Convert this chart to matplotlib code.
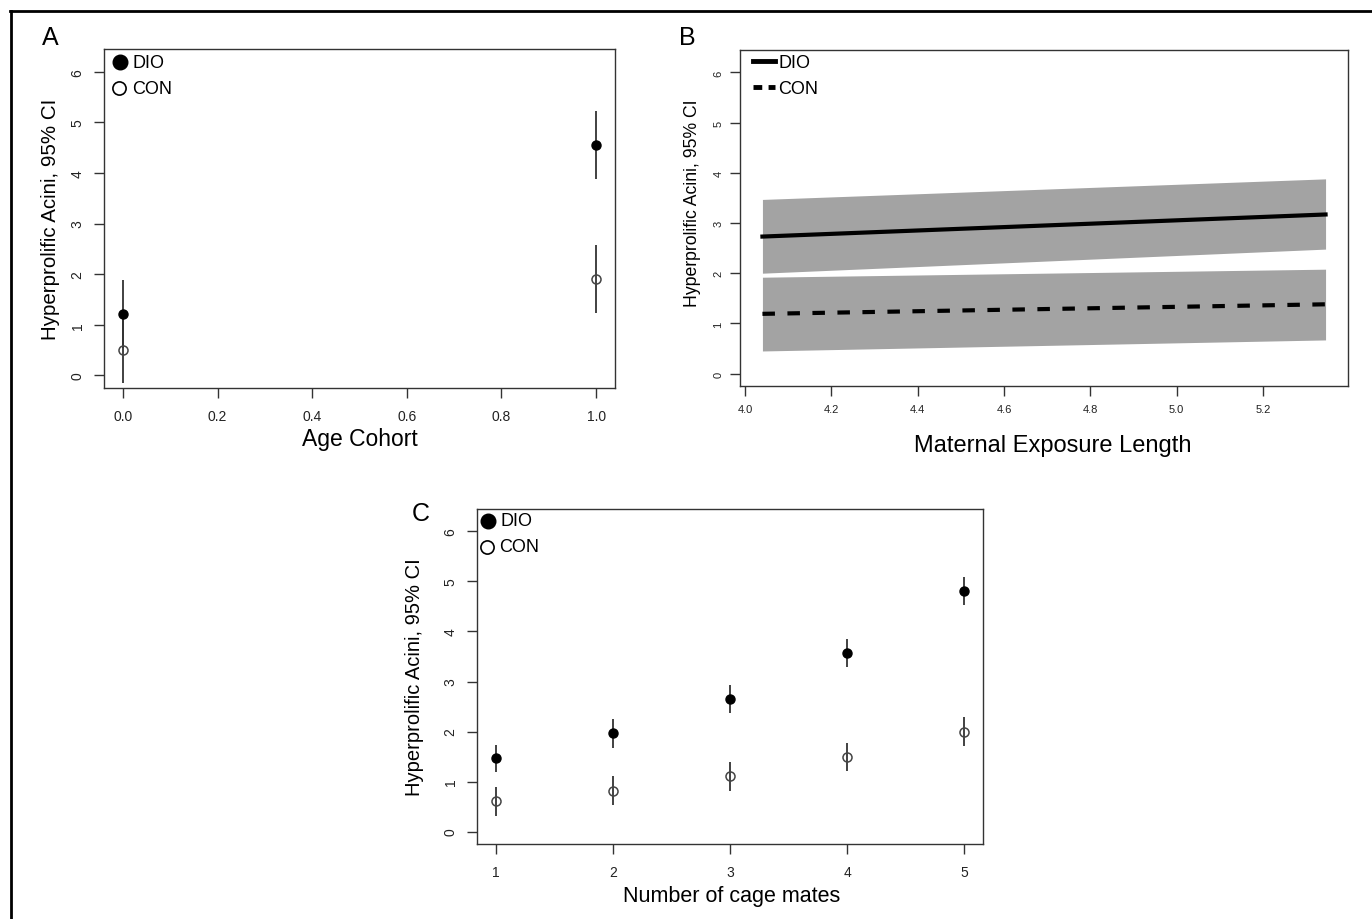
import numpy as np
import matplotlib
matplotlib.use("Agg")
from matplotlib import pyplot as plt
from matplotlib.lines import Line2D
from matplotlib.transforms import Affine2D, ScaledTranslation

plt.rcParams['font.family'] = ['Liberation Sans', 'DejaVu Sans']
NARROW = ['Liberation Sans Narrow', 'Liberation Sans', 'DejaVu Sans']

# A: age cohort
age_cohort = [0, 1]
a_dio = [1.22, 4.56]
a_dio_lo = [0.55, 3.88]
a_dio_hi = [1.88, 5.23]
a_con = [0.51, 1.91]
a_con_lo = [-0.15, 1.24]
a_con_hi = [1.18, 2.58]

# B: maternal exposure length (fitted line + 95% band)
exposure = [4.04, 5.345]
b_dio = [2.73, 3.17]
b_dio_lo = [2.00, 2.48]
b_dio_hi = [3.47, 3.88]
b_con = [1.19, 1.38]
b_con_lo = [0.45, 0.67]
b_con_hi = [1.92, 2.08]

# C: number of cage mates
cage_mates = [1, 2, 3, 4, 5]
c_dio = [1.47, 1.97, 2.65, 3.56, 4.80]
c_dio_lo = [1.19, 1.68, 2.37, 3.28, 4.52]
c_dio_hi = [1.74, 2.25, 2.93, 3.85, 5.08]
c_con = [0.61, 0.82, 1.11, 1.49, 2.00]
c_con_lo = [0.32, 0.53, 0.82, 1.21, 1.71]
c_con_hi = [0.89, 1.11, 1.39, 1.77, 2.29]

yticks = [0, 1, 2, 3, 4, 5, 6]
ylab = 'Hyperprolific Acini, 95% CI'

W, H = 1372, 920
fig = plt.figure(figsize=(W / 100, H / 100), dpi=100)


def px_axes(l, t, r, b):
    return fig.add_axes([l / W, 1 - b / H, (r - l) / W, (b - t) / H])


def px(ax):
    # pixel offsets measured from the axes' top-left corner, y downwards
    return Affine2D().scale(1, -1) + ScaledTranslation(0, 1, ax.transAxes)


def style(ax, size, xpad, ypad):
    for s in ax.spines.values():
        s.set_color('#333333')
        s.set_linewidth(1.0)
    ax.tick_params(direction='out', length=7, width=1, color='#333333',
                   labelsize=size, labelcolor='#222222')
    ax.tick_params(axis='x', pad=xpad)
    ax.tick_params(axis='y', pad=ypad, labelrotation=90)
    for lab in ax.get_yticklabels():
        lab.set_va('center')
    ax.set_yticks(yticks)
    ax.set_ylim(-0.248, 6.448)


def ci_points(ax, x, y, lo, hi, filled):
    ax.vlines(x, lo, hi, color='#333333', lw=1.3, zorder=2)
    if filled:
        ax.plot(x, y, 'o', ms=6.5, color='black', zorder=3)
    else:
        ax.plot(x, y, 'o', ms=6.5, mfc='none', mec='#444444', mew=1.1, zorder=3)


def point_legend(ax, mx, tx, y0, step):
    t = px(ax)
    ax.plot([mx], [y0], 'o', ms=10.5, color='black', transform=t, clip_on=False)
    ax.plot([mx - 1], [y0 + step], 'o', ms=9.5, mfc='none', mec='black', mew=1.2,
            transform=t, clip_on=False)
    ax.text(tx, y0, 'DIO', transform=t, va='center', ha='left', fontsize=13, family=NARROW)
    ax.text(tx - 1, y0 + step, 'CON', transform=t, va='center', ha='left', fontsize=13, family=NARROW)


# Panel A
axA = px_axes(104, 50, 615, 389)
ci_points(axA, age_cohort, a_dio, a_dio_lo, a_dio_hi, True)
ci_points(axA, age_cohort, a_con, a_con_lo, a_con_hi, False)
axA.set_xlim(-0.04, 1.04)
axA.set_xticks([0, 0.2, 0.4, 0.6, 0.8, 1.0])
axA.set_xticklabels(['0.0', '0.2', '0.4', '0.6', '0.8', '1.0'])
style(axA, 10, 8, 7)
point_legend(axA, 16, 29, 13, 26)

# Panel B
axB = px_axes(740, 51, 1348, 387)
axB.fill_between(exposure, b_dio_lo, b_dio_hi, color='#a3a3a3', lw=0, zorder=1)
axB.fill_between(exposure, b_con_lo, b_con_hi, color='#a3a3a3', lw=0, zorder=1)
axB.plot(exposure, b_dio, color='black', lw=3, zorder=2)
axB.plot(exposure, b_con, color='black', lw=3, ls=(0, (3, 3)), zorder=2)
axB.set_xlim(3.988, 5.397)
axB.set_xticks([4.0, 4.2, 4.4, 4.6, 4.8, 5.0, 5.2])
style(axB, 8, 6, 5)
for lab in axB.get_xticklabels() + axB.get_yticklabels():
    lab.set_family(NARROW)
tB = px(axB)
axB.plot([13, 35], [11, 11], color='black', lw=3.5, transform=tB, clip_on=False)
axB.plot([13, 35], [37, 37], color='black', lw=3.5, ls=(0, (1.8, 1.3)), transform=tB, clip_on=False)
axB.text(38, 12, 'DIO', transform=tB, va='center', ha='left', fontsize=13, family=NARROW)
axB.text(38, 38, 'CON', transform=tB, va='center', ha='left', fontsize=13, family=NARROW)

# Panel C
axC = px_axes(477, 510, 983, 845)
ci_points(axC, cage_mates, c_dio, c_dio_lo, c_dio_hi, True)
ci_points(axC, cage_mates, c_con, c_con_lo, c_con_hi, False)
axC.set_xlim(0.84, 5.16)
axC.set_xticks(cage_mates)
style(axC, 10, 8, 7)
point_legend(axC, 11, 23, 12, 26)

# axis titles
fig.text(51 / W, 1 - 219.5 / H, ylab, rotation=90, ha='center', va='center', fontsize=14.8)
fig.text(359.5 / W, 1 - 440 / H, 'Age Cohort', ha='center', va='center', fontsize=16.5)
fig.text(693 / W, 1 - 203 / H, ylab, rotation=90, ha='center', va='center', fontsize=12.7)
fig.text(1053 / W, 1 - 446 / H, 'Maternal Exposure Length', ha='center', va='center', fontsize=17)
fig.text(415 / W, 1 - 677.5 / H, ylab, rotation=90, ha='center', va='center', fontsize=14.5)
fig.text(732 / W, 1 - 897 / H, 'Number of cage mates', ha='center', va='center', fontsize=15.5)

# panel letters
fig.text(50 / W, 1 - 38 / H, 'A', ha='center', va='center', fontsize=18)
fig.text(687 / W, 1 - 38 / H, 'B', ha='center', va='center', fontsize=18)
fig.text(421 / W, 1 - 514 / H, 'C', ha='center', va='center', fontsize=18)

# outer frame (top and left edges only)
fig.add_artist(Line2D([10 / W, 1], [1 - 12 / H, 1 - 12 / H], transform=fig.transFigure, color='black', lw=2))
fig.add_artist(Line2D([11 / W, 11 / W], [0, 1 - 12 / H], transform=fig.transFigure, color='black', lw=2))

fig.savefig('out.png', dpi=100)
